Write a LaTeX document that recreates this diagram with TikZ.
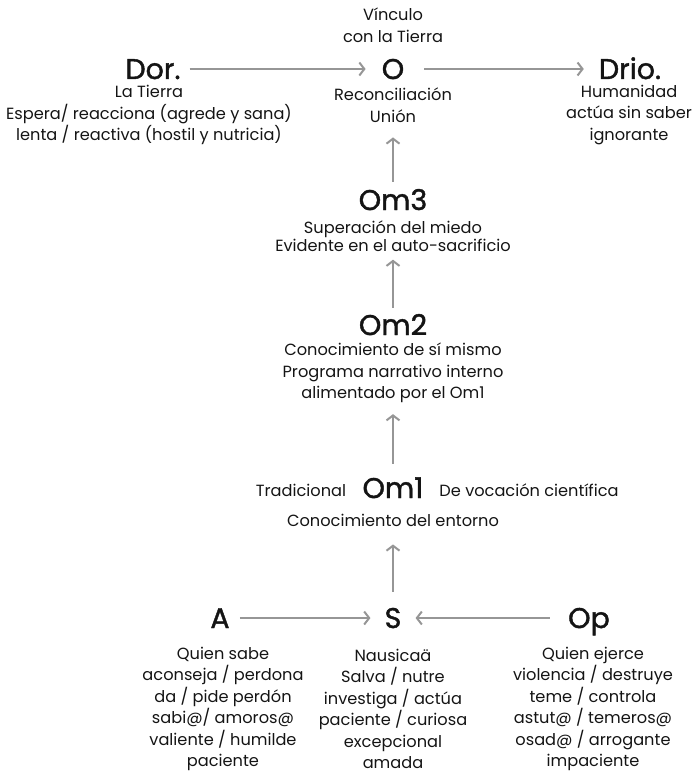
\documentclass[tikz,border=0pt]{standalone}
\usepackage{fontspec}
\setmainfont{Poppins}
\newfontfamily\titlefont[FakeBold=1.4]{Poppins}
\usepackage{xcolor}
\definecolor{Col1}{RGB}{20,20,20}
\definecolor{Col2}{RGB}{150,150,150}
\usepackage{tikz}
\usetikzlibrary{arrows.meta}
\tikzstyle{Title}=[inner sep=0pt,text height=20pt,text depth=0pt,
font=\titlefont\fontsize{28.5}{30}\selectfont,text=Col1]
\tikzstyle{Label}=[align=center,inner sep=0pt,text=Col1,
font=\fontsize{16.2}{21.5}\selectfont]
\tikzstyle{LabelTight}=[Label,font=\fontsize{16.2}{18}\selectfont]
\tikzstyle{Edge}=[draw=Col2,line width=2pt,
-{Straight Barb[length=5pt,width=13pt]}]

\begin{document}
\begin{tikzpicture}[x=1pt,y=-1pt]
        \useasboundingbox(0,0)rectangle(694,773);
        % fila superior
        \node[Label](vinculo)at(393,25){Vínculo\\con la Tierra};
        \node[Title](dor)at(153,69){Dor.};
        \node[Title](o)at(393,69){O};
        \node[Title](drio)at(630,69){Drio.};
        \node[Label](dortext)at(149,115)
            {La Tierra\\Espera/ reacciona (agrede y sana)\\
            lenta / reactiva (hostil y nutricia)};
        \node[Label](otext)at(393,105){Reconciliación\\Unión};
        \node[Label](driotext)at(629,115)
            {Humanidad\\actúa sin saber\\ignorante};
        % eje central
        \node[Title](om3)at(393,200){Om3};
        \node[LabelTight](om3text)at(393,236)
            {Superación del miedo\\Evidente en el auto-sacrificio};
        \node[Title](om2)at(393,325){Om2};
        \node[Label](om2text)at(393,373)
            {Conocimiento de sí mismo\\Programa narrativo interno\\
            alimentado por el Om1};
        \node[Title](om1)at(393,488){Om1};
        \node[Label](trad)at(301,490){Tradicional};
        \node[Label](cient)at(529,490){De vocación científica};
        \node[Label](entorno)at(393,520){Conocimiento del entorno};
        % fila inferior
        \node[Title](a)at(220,618){A};
        \node[Title](s)at(393,618){S};
        \node[Title](op)at(589,618){Op};
        \node[Label](atext)at(223,709)
            {Quien sabe\\aconseja / perdona\\da / pide perdón\\
            sabi@/ amoros@\\valiente / humilde\\paciente};
        \node[Label](stext)at(393,709)
            {Nausicaä\\Salva / nutre\\investiga / actúa\\
            paciente / curiosa\\excepcional\\amada};
        \node[Label](optext)at(593,709)
            {Quien ejerce\\violencia / destruye\\teme / controla\\
            astut@ / temeros@\\osad@ / arrogante\\impaciente};
        \draw[Edge,shorten <=9pt,shorten >=16pt](dor)--(o);
        \draw[Edge,shorten <=20pt,shorten >=15pt](o)--(drio);
        \draw[Edge,shorten <=8pt,shorten >=15pt](om3)--(otext);
        \draw[Edge,shorten <=7pt,shorten >=8pt](om2)--(om3text);
        \draw[Edge,shorten <=14pt,shorten >=11pt](om1)--(om2text);
        \draw[Edge,shorten <=16pt,shorten >=18pt](s)--(entorno);
        \draw[Edge,shorten <=10pt,shorten >=14pt](a)--(s);
        \draw[Edge,shorten <=18pt,shorten >=14pt](op)--(s);
    \end{tikzpicture}
\end{document}
